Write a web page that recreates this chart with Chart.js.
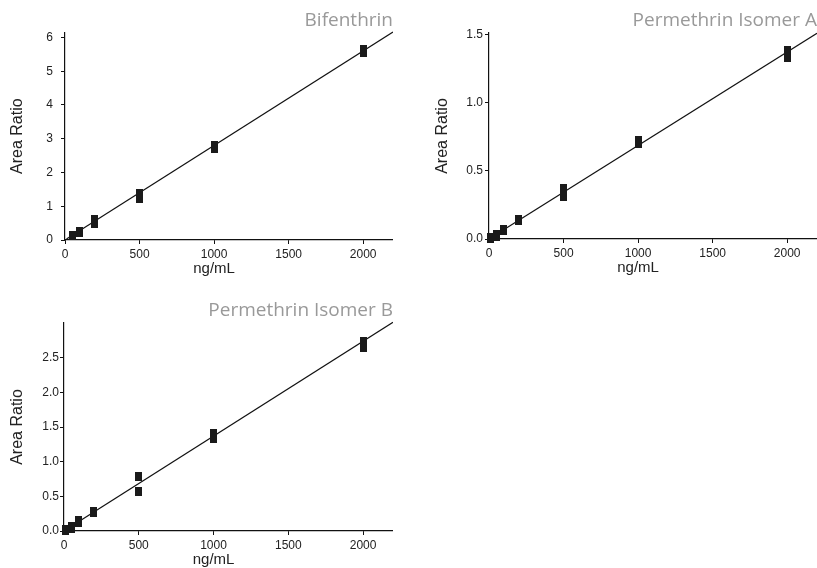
<!DOCTYPE html>
<html><head><meta charset="utf-8">
<script src="https://cdn.jsdelivr.net/npm/chart.js@4.4.1/dist/chart.umd.min.js"></script>
<style>
html,body{margin:0;padding:0;background:#fff;width:817px;height:568px;overflow:hidden;position:relative}
canvas{position:absolute;display:block}
</style></head><body>
<canvas id="c1" width="393" height="285" style="left:0px;top:0px;width:393px;height:285px"></canvas>
<canvas id="c2" width="397" height="285" style="left:420px;top:0px;width:397px;height:285px"></canvas>
<canvas id="c3" width="393" height="278" style="left:0px;top:290px;width:393px;height:278px"></canvas>
<script>
// ---- data ----
const xTicks = [0, 500, 1000, 1500, 2000];

const bifenthrinTitle = 'Bifenthrin';
const bifenthrinConc = [50, 100, 200, 500, 1000, 2000];
const bifenthrinRep1 = [0.12, 0.23, 0.50, 1.24, 2.71, 5.54];
const bifenthrinRep2 = [0.14, 0.25, 0.61, 1.38, 2.80, 5.63];
const bifenthrinFitX = [10, 2200];
const bifenthrinFitY = [0.03, 6.16];
const bifenthrinYTicks = [0, 1, 2, 3, 4, 5, 6];

const isomerATitle = 'Permethrin Isomer A';
const isomerAConc = [10, 50, 100, 200, 500, 1000, 2000];
const isomerARep1 = [0.006, 0.022, 0.060, 0.135, 0.31, 0.70, 1.33];
const isomerARep2 = [0.010, 0.030, 0.072, 0.145, 0.37, 0.72, 1.38];
const isomerAFitX = [10, 2200];
const isomerAFitY = [0.007, 1.51];
const isomerAYTicks = [0.0, 0.5, 1.0, 1.5];

const isomerBTitle = 'Permethrin Isomer B';
const isomerBConc = [10, 50, 100, 200, 500, 1000, 2000];
const isomerBRep1 = [0.012, 0.04, 0.12, 0.26, 0.57, 1.34, 2.65];
const isomerBRep2 = [0.020, 0.06, 0.15, 0.28, 0.78, 1.40, 2.73];
const isomerBFitX = [10, 2200];
const isomerBFitY = [0.014, 3.01];
const isomerBYTicks = [0.0, 0.5, 1.0, 1.5, 2.0, 2.5];

const xAxisTitle = 'ng/mL';
const yAxisTitle = 'Area Ratio';

// ---- drawing ----
function rectImg(w, h, color) {
  const c = document.createElement('canvas');
  c.width = w; c.height = h;
  const g = c.getContext('2d');
  g.fillStyle = color; g.fillRect(0, 0, w, h);
  return c;
}
const markRect = rectImg(7, 9, '#1a1a1a');

const xTitlePlugin = {
  id: 'xTitle',
  afterDraw(chart, args, opts) {
    const {ctx} = chart;
    const x = chart.scales.x;
    ctx.save();
    ctx.font = '15px "Liberation Sans", Arial, sans-serif';
    ctx.fillStyle = '#222';
    ctx.textAlign = 'center';
    ctx.textBaseline = 'alphabetic';
    ctx.fillText(opts.text, x.getPixelForValue(opts.at), x.top + opts.offset);
    ctx.restore();
  }
};

const tickFont = {family: '"Liberation Sans", Arial, sans-serif', size: 12};

function makeChart(id, o) {
  const pts = [];
  o.conc.forEach((c, i) => { pts.push({x: c, y: o.rep1[i]}); pts.push({x: c, y: o.rep2[i]}); });
  const fit = o.fitX.map((x, i) => ({x, y: o.fitY[i]}));
  return new Chart(document.getElementById(id), {
    type: 'scatter',
    data: {datasets: [
      {data: pts, pointStyle: markRect, pointRadius: 4, pointHoverRadius: 4, clip: false, order: 0},
      {data: fit, showLine: true, pointRadius: 0, pointHoverRadius: 0, borderColor: '#111', borderWidth: 1.2, clip: false, order: 1}
    ]},
    options: {
      responsive: false, animation: false, devicePixelRatio: 1,
      layout: {padding: 0, autoPadding: false},
      events: [],
      plugins: {
        legend: {display: false}, tooltip: {enabled: false},
        title: {display: true, text: o.title, align: 'end', color: '#999999',
          font: {family: '"Open Sans", "Noto Sans", sans-serif', size: 19, lineHeight: 1.2, weight: 'normal'},
          padding: {top: o.tTop, bottom: o.tBottom}},
        xTitle: {text: xAxisTitle, at: 1000, offset: o.xTitleOffset}
      },
      scales: {
        x: {
          type: 'linear', min: 0, max: 2200,
          afterBuildTicks: s => { s.ticks = xTicks.map(v => ({value: v})); },
          afterFit: s => { s.height = o.xH; s.paddingLeft = 0; s.paddingRight = 0; },
          grid: {display: true, drawOnChartArea: false, drawTicks: true, tickLength: 4, tickColor: '#111', tickWidth: 1},
          border: {display: true, color: '#111', width: 1.2},
          ticks: {font: tickFont, color: '#222', padding: 3, maxRotation: 0, autoSkip: false,
            callback: v => String(v)}
        },
        y: {
          type: 'linear', min: 0, max: o.yMax,
          afterBuildTicks: s => { s.ticks = o.yTicks.map(v => ({value: v})); },
          afterFit: s => { s.width = o.yW; },
          grid: {display: true, drawOnChartArea: false, drawTicks: true, tickLength: 4, tickColor: '#111', tickWidth: 1},
          border: {display: true, color: '#111', width: 1.2},
          ticks: {font: tickFont, color: '#222', padding: o.yPad, autoSkip: false,
            callback: v => o.dec ? Number(v).toFixed(1) : String(v)},
          title: {display: true, text: yAxisTitle, color: '#222',
            font: {family: '"Liberation Sans", Arial, sans-serif', size: 16, lineHeight: 1.2},
            padding: {top: o.yTitlePad, bottom: 0}}
        }
      }
    },
    plugins: [xTitlePlugin]
  });
}

makeChart('c1', {title: bifenthrinTitle, conc: bifenthrinConc, rep1: bifenthrinRep1, rep2: bifenthrinRep2,
  fitX: bifenthrinFitX, fitY: bifenthrinFitY, yTicks: bifenthrinYTicks, yMax: 6.15, dec: false,
  tTop: 9.5, tBottom: 0.1, xH: 45, yW: 65, yPad: 8, yTitlePad: 8.2, xTitleOffset: 33});

makeChart('c2', {title: isomerATitle, conc: isomerAConc, rep1: isomerARep1, rep2: isomerARep2,
  fitX: isomerAFitX, fitY: isomerAFitY, yTicks: isomerAYTicks, yMax: 1.512, dec: true,
  tTop: 9.5, tBottom: 0.7, xH: 46, yW: 69, yPad: 2, yTitlePad: 13.4, xTitleOffset: 33});

makeChart('c3', {title: isomerBTitle, conc: isomerBConc, rep1: isomerBRep1, rep2: isomerBRep2,
  fitX: isomerBFitX, fitY: isomerBFitY, yTicks: isomerBYTicks, yMax: 3.0, dec: true,
  tTop: 9.5, tBottom: 0.7, xH: 37, yW: 64, yPad: 1, yTitlePad: 7.9, xTitleOffset: 33});
</script>
</body></html>
